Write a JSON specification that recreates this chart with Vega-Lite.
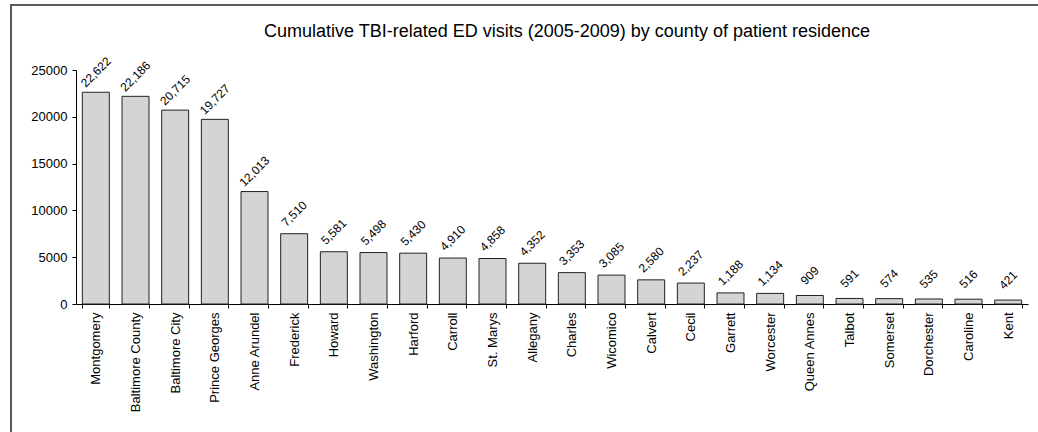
{
  "$schema": "https://vega.github.io/schema/vega-lite/v6.json",
  "width": 1040,
  "height": 440,
  "autosize": {"type": "none"},
  "padding": {"left": 11, "top": 5, "right": 0, "bottom": 0},
  "background": "white",
  "title": {
    "text": "Cumulative TBI-related ED visits (2005-2009) by county of patient residence",
    "font": "Liberation Sans",
    "fontSize": 18,
    "fontWeight": "normal",
    "color": "black",
    "anchor": "middle",
    "baseline": "top",
    "offset": 0,
    "dx": 36,
    "dy": 36
  },
  "data": {
    "values": [
      {"county": "Montgomery", "visits": 22622},
      {"county": "Baltimore County", "visits": 22186},
      {"county": "Baltimore City", "visits": 20715},
      {"county": "Prince Georges", "visits": 19727},
      {"county": "Anne Arundel", "visits": 12013},
      {"county": "Frederick", "visits": 7510},
      {"county": "Howard", "visits": 5581},
      {"county": "Washington", "visits": 5498},
      {"county": "Harford", "visits": 5430},
      {"county": "Carroll", "visits": 4910},
      {"county": "St. Marys", "visits": 4858},
      {"county": "Allegany", "visits": 4352},
      {"county": "Charles", "visits": 3353},
      {"county": "Wicomico", "visits": 3085},
      {"county": "Calvert", "visits": 2580},
      {"county": "Cecil", "visits": 2237},
      {"county": "Garrett", "visits": 1188},
      {"county": "Worcester", "visits": 1134},
      {"county": "Queen Annes", "visits": 909},
      {"county": "Talbot", "visits": 591},
      {"county": "Somerset", "visits": 574},
      {"county": "Dorchester", "visits": 535},
      {"county": "Caroline", "visits": 516},
      {"county": "Kent", "visits": 421}
    ]
  },
  "encoding": {
    "x": {
      "field": "county",
      "type": "nominal",
      "sort": null,
      "scale": {"range": [65, 1017], "paddingInner": 0.32, "paddingOuter": 0.16},
      "axis": {
        "title": null,
        "orient": "bottom",
        "offset": -141,
        "labelAngle": -90,
        "labelFont": "Liberation Sans",
        "labelFontSize": 13,
        "labelColor": "black",
        "labelPadding": 4,
        "tickBand": "extent",
        "tickSize": 4,
        "tickColor": "black",
        "domainColor": "black",
        "labelOverlap": false
      }
    },
    "y": {
      "field": "visits",
      "type": "quantitative",
      "scale": {"domain": [0, 25000], "range": [299, 65], "nice": false},
      "axis": {
        "title": null,
        "orient": "left",
        "offset": -65,
        "values": [0, 5000, 10000, 15000, 20000, 25000],
        "format": "d",
        "grid": false,
        "labelFont": "Liberation Sans",
        "labelFontSize": 13,
        "labelColor": "black",
        "labelPadding": 5,
        "tickSize": 4,
        "tickColor": "black",
        "domainColor": "black"
      }
    }
  },
  "layer": [
    {
      "mark": {"type": "bar", "fill": "#d4d4d4", "stroke": "#222222", "strokeWidth": 1}
    },
    {
      "mark": {
        "type": "text",
        "angle": -45,
        "align": "center",
        "baseline": "middle",
        "yOffset": -20,
        "font": "Liberation Sans",
        "fontSize": 12,
        "color": "black"
      },
      "encoding": {
        "text": {"field": "visits", "type": "quantitative", "format": ","}
      }
    }
  ],
  "config": {
    "view": {"stroke": "#5a5a5a", "strokeWidth": 2}
  }
}
